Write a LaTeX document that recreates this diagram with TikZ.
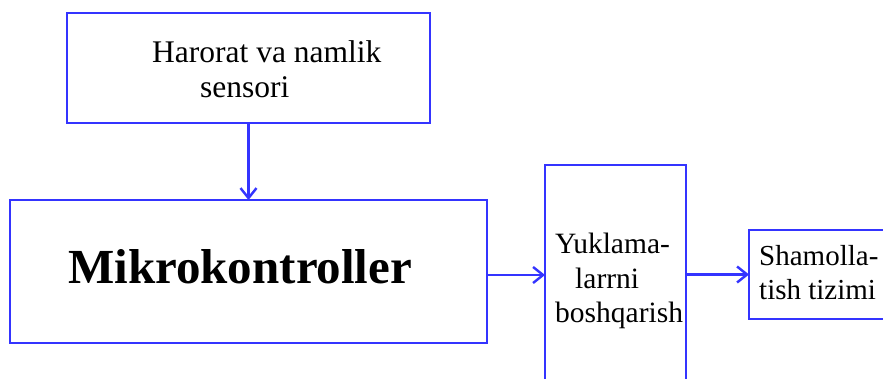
\documentclass[tikz,border=0pt]{standalone}
\usepackage{fontspec}
\setmainfont{Liberation Serif}
\usetikzlibrary{arrows.meta}
\definecolor{lineblue}{RGB}{52,52,255}
\begin{document}
\begin{tikzpicture}[x=1pt,y=-1pt,
  blockbox/.style={draw=lineblue,line width=2.4pt,minimum width=#1,inner sep=0pt,outer sep=0pt},
  lbl/.style={anchor=base west,inner sep=0pt,text=black},
  arr/.style={draw=lineblue,line width=2.4pt,-{Straight Barb[length=10pt,width=16pt,line width=2.4pt]}}]
  \useasboundingbox (0,0) rectangle (883,378);
  \clip (0,0) rectangle (883,378);

  % blocks
  \node[blockbox=363pt,minimum height=110pt] (sensor) at (248.5,68) {};
  \node[blockbox=477pt,minimum height=143pt] (mcu) at (248.5,271.5) {};
  \node[blockbox=141pt,minimum height=235pt] (load) at (615.5,282.5) {};
  \node[blockbox=151pt,minimum height=89pt] (fan) at (824.5,274.5) {};

  % labels
  \node[lbl,font=\fontsize{31.5}{36}\selectfont] (s1) at (152,62) {Harorat va namlik};
  \node[lbl,font=\fontsize{31.5}{36}\selectfont] (s2) at (200,97) {sensori};
  \node[lbl,font=\fontsize{49}{56}\selectfont\bfseries] (m1) at (68,283) {Mikrokontroller};
  \node[lbl,font=\fontsize{29.5}{34}\selectfont] (l1) at (555,253) {Yuklama-};
  \node[lbl,font=\fontsize{29.5}{34}\selectfont] (l2) at (575,288) {larrni};
  \node[lbl,font=\fontsize{29.5}{34}\selectfont] (l3) at (555,322) {boshqarish};
  \node[lbl,font=\fontsize{29}{34}\selectfont] (f1) at (759,265) {Shamolla-};
  \node[lbl,font=\fontsize{29}{34}\selectfont] (f2) at (759,299) {tish tizimi};

  % connectors
  \draw[arr] (sensor.south) -- (mcu.north);
  \draw[arr] ([yshift=-3.5pt]mcu.east) -- ([yshift=-3.5pt]mcu.east -| load.west);
  \draw[arr] (load.east |- fan.west) -- (fan.west);
\end{tikzpicture}
\end{document}
